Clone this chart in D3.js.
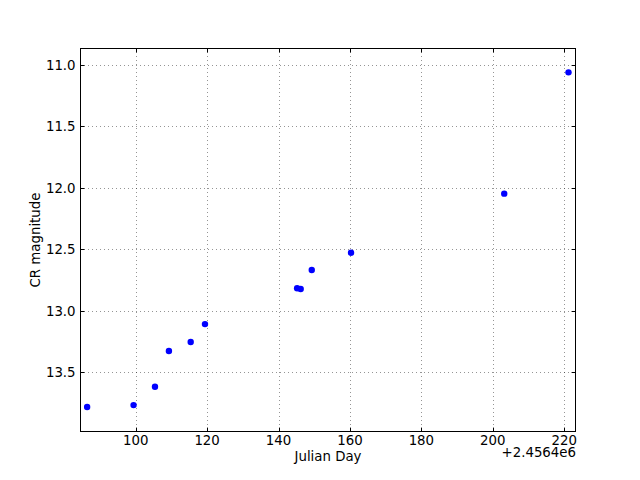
<!DOCTYPE html>
<html>
<head>
<meta charset="utf-8">
<script src="https://cdn.jsdelivr.net/npm/d3@7"></script>
<style>
  html, body { margin: 0; padding: 0; background: #fff; }
  svg { display: block; }
  text { font-family: "DejaVu Sans", sans-serif; font-size: 13.33px; fill: #000; }
</style>
</head>
<body>
<svg id="chart" width="640" height="480"></svg>
<script>
// Julian Day offsets (relative to 2456400) and CR magnitudes
const julianOffset = [86.4, 99.4, 105.4, 109.3, 115.4, 119.4, 145.2, 146.2, 149.3, 160.3, 203.2, 221.2];
const crMagnitude  = [13.783, 13.767, 13.618, 13.327, 13.254, 13.108, 12.817, 12.823, 12.668, 12.528, 12.047, 11.060];
const xTicks = [100, 120, 140, 160, 180, 200, 220];
const yTicks = [11.0, 11.5, 12.0, 12.5, 13.0, 13.5];
const xLabel = "Julian Day";
const yLabel = "CR magnitude";
const offsetText = "+2.4564e6";

const svg = d3.select("#chart");
const L = 80, R = 576, T = 48, B = 432;

const x = d3.scaleLinear().domain([84.4, 223.3]).range([L, R]);
const y = d3.scaleLinear().domain([10.862, 13.986]).range([T, B]);

// grid
const grid = svg.append("g");
grid.selectAll("line.gx").data(xTicks).enter().append("line")
  .attr("x1", d => Math.round(x(d)) + 0.5).attr("x2", d => Math.round(x(d)) + 0.5)
  .attr("y1", T).attr("y2", B)
  .attr("stroke", "#000").attr("stroke-width", 0.6).attr("stroke-dasharray", "1,3").attr("stroke-opacity", 0.7);
grid.selectAll("line.gy").data(yTicks).enter().append("line")
  .attr("y1", d => Math.round(y(d)) + 0.5).attr("y2", d => Math.round(y(d)) + 0.5)
  .attr("x1", L).attr("x2", R)
  .attr("stroke", "#000").attr("stroke-width", 0.6).attr("stroke-dasharray", "1,3").attr("stroke-opacity", 0.7);

// ticks (inward, on all sides)
const tl = 4.4;
const ticks = svg.append("g").attr("stroke", "#000").attr("stroke-width", 1);
xTicks.forEach(d => {
  const px = Math.round(x(d)) + 0.5;
  ticks.append("line").attr("x1", px).attr("x2", px).attr("y1", B).attr("y2", B - tl);
  ticks.append("line").attr("x1", px).attr("x2", px).attr("y1", T).attr("y2", T + tl);
});
yTicks.forEach(d => {
  const py = Math.round(y(d)) + 0.5;
  ticks.append("line").attr("x1", L).attr("x2", L + tl).attr("y1", py).attr("y2", py);
  ticks.append("line").attr("x1", R).attr("x2", R - tl).attr("y1", py).attr("y2", py);
});

// points
svg.append("g").selectAll("circle").data(julianOffset).enter().append("circle")
  .attr("cx", (d, i) => x(d))
  .attr("cy", (d, i) => y(crMagnitude[i]))
  .attr("r", 3.2)
  .attr("fill", "#0000ff");

// frame
svg.append("rect").attr("x", L + 0.5).attr("y", T + 0.5).attr("width", R - L - 1).attr("height", B - T - 1)
  .attr("fill", "none").attr("stroke", "#000").attr("stroke-width", 1);

// tick labels
svg.append("g").selectAll("text").data(xTicks).enter().append("text")
  .attr("x", d => x(d)).attr("y", 445).attr("text-anchor", "middle").text(d => d);
svg.append("g").selectAll("text").data(yTicks).enter().append("text")
  .attr("x", 75.6).attr("y", d => y(d) + 4.8).attr("text-anchor", "end").text(d => d.toFixed(1));

// offset text
svg.append("text").attr("x", 576).attr("y", 457).attr("text-anchor", "end").text(offsetText);

// axis labels
svg.append("text").attr("x", (L + R) / 2).attr("y", 461).attr("text-anchor", "middle").text(xLabel);
svg.append("text").attr("transform", "translate(39.5," + ((T + B) / 2) + ") rotate(-90)")
  .attr("text-anchor", "middle").text(yLabel);
</script>
</body>
</html>
